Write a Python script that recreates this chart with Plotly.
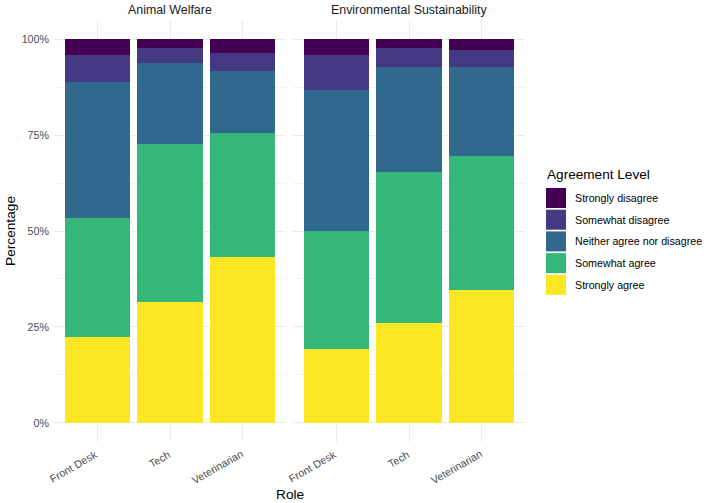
import plotly.graph_objects as go

roles = ["Front Desk", "Tech", "Veterinarian"]
topics = ["Animal Welfare", "Environmental Sustainability"]
levels = ["Strongly disagree", "Somewhat disagree", "Neither agree nor disagree",
          "Somewhat agree", "Strongly agree"]
colors = ["#440154", "#443A83", "#31688E", "#35B779", "#FDE725"]

# Percentages per level (order of roles)
animal_strongly_disagree = [4.0, 2.3, 3.6]
animal_somewhat_disagree = [7.2, 3.9, 4.7]
animal_neither = [35.3, 21.2, 16.1]
animal_somewhat_agree = [31.2, 41.2, 32.4]
animal_strongly_agree = [22.3, 31.4, 43.2]

env_strongly_disagree = [4.2, 2.3, 2.8]
env_somewhat_disagree = [9.0, 5.0, 4.4]
env_neither = [36.8, 27.4, 23.3]
env_somewhat_agree = [30.8, 39.2, 34.8]
env_strongly_agree = [19.2, 26.1, 34.7]

data = {
    "Animal Welfare": [animal_strongly_disagree, animal_somewhat_disagree, animal_neither,
                       animal_somewhat_agree, animal_strongly_agree],
    "Environmental Sustainability": [env_strongly_disagree, env_somewhat_disagree, env_neither,
                                     env_somewhat_agree, env_strongly_agree],
}

y_ticks = [0, 25, 50, 75, 100]
y_ticklabels = ["0%", "25%", "50%", "75%", "100%"]

W, H = 709, 503
L, R, T, B = 54, 525, 20, 442
pw, ph = R - L, B - T
FONT = "Liberation Sans, Arial, sans-serif"
TICK = 10.7

fig = go.Figure()
axes = ["x", "x2"]
for ti, topic in enumerate(topics):
    for li in reversed(range(len(levels))):
        fig.add_trace(go.Bar(
            x=roles, y=data[topic][li], name=levels[li],
            marker=dict(color=colors[li], line=dict(width=0)),
            xaxis=axes[ti], yaxis="y", showlegend=False,
            hovertemplate="%{x}<br>" + levels[li] + ": %{y:.1f}%<extra></extra>",
        ))

d1 = (286 - L) / pw
d2 = (293 - L) / pw
xcommon = dict(
    type="category", range=[-0.6, 2.6], showgrid=True, gridcolor="#EBEBEB", gridwidth=1,
    zeroline=False, showline=False, ticks="", showticklabels=False, anchor="y",
)
fig.update_layout(
    width=W, height=H,
    margin=dict(l=L, r=W - R, t=T, b=H - B, pad=0),
    paper_bgcolor="white", plot_bgcolor="white",
    barmode="stack", bargap=0.1,
    xaxis=dict(domain=[0, d1], **xcommon),
    xaxis2=dict(domain=[d2, 1], **xcommon),
    yaxis=dict(range=[-5, 105], tickmode="array", tickvals=y_ticks, ticktext=y_ticklabels,
               showgrid=True, gridcolor="#EBEBEB", gridwidth=1, zeroline=False,
               showline=False, ticks="", ticklabelstandoff=4,
               tickfont=dict(family=FONT, size=TICK, color="#4D4D4D"),
               minor=dict(tickvals=[12.5, 37.5, 62.5, 87.5], showgrid=True,
                          gridcolor="#F3F3F3", gridwidth=0.6)),
    showlegend=False,
    font=dict(family=FONT),
)

# rotated category labels (angle 30, right-aligned at tick)
for ti in range(len(topics)):
    for role in roles:
        fig.add_annotation(text=role, xref=axes[ti], yref="paper", x=role,
                           y=(B - 445) / ph, showarrow=False, textangle=-30,
                           xanchor="right", yanchor="top", xshift=5,
                           font=dict(family=FONT, size=TICK, color="#4D4D4D"))

# axis titles
fig.add_annotation(text="Role", xref="paper", yref="paper", x=0.5, y=(B - 494) / ph,
                   showarrow=False, font=dict(family=FONT, size=13.7, color="black"),
                   xanchor="center", yanchor="middle")
fig.add_annotation(text="Percentage", xref="paper", yref="paper", x=(10 - L) / pw,
                   y=(B - 231) / ph, showarrow=False, textangle=-90,
                   font=dict(family=FONT, size=13.7, color="black"),
                   xanchor="center", yanchor="middle")

# facet strip titles
centers = [d1 / 2, (d2 + 1) / 2]
for ti, topic in enumerate(topics):
    fig.add_annotation(text=topic, xref="paper", yref="paper", x=centers[ti],
                       y=(B - 10) / ph, showarrow=False, xanchor="center", yanchor="middle",
                       font=dict(family=FONT, size=12.4, color="#1A1A1A"))

# manual legend
kx0 = (546 - L) / pw
kx1 = (566 - L) / pw
fig.add_annotation(text="Agreement Level", xref="paper", yref="paper", x=(545 - L) / pw,
                   y=(B - 175) / ph, showarrow=False, xanchor="left", yanchor="middle",
                   font=dict(family=FONT, size=13.6, color="black"))
top0 = 188
pitch = 21.7
for i, lvl in enumerate(levels):
    ytop = top0 + i * pitch
    ybot = ytop + 20
    fig.add_shape(type="rect", xref="paper", yref="paper", x0=kx0, x1=kx1,
                  y0=(B - ybot) / ph, y1=(B - ytop) / ph,
                  fillcolor=colors[i], line=dict(width=0))
    fig.add_annotation(text=lvl, xref="paper", yref="paper", x=(573 - L) / pw,
                       y=(B - (ytop + 10)) / ph, showarrow=False, xanchor="left",
                       yanchor="middle", font=dict(family=FONT, size=TICK, color="black"))

fig.write_html("out.html")
